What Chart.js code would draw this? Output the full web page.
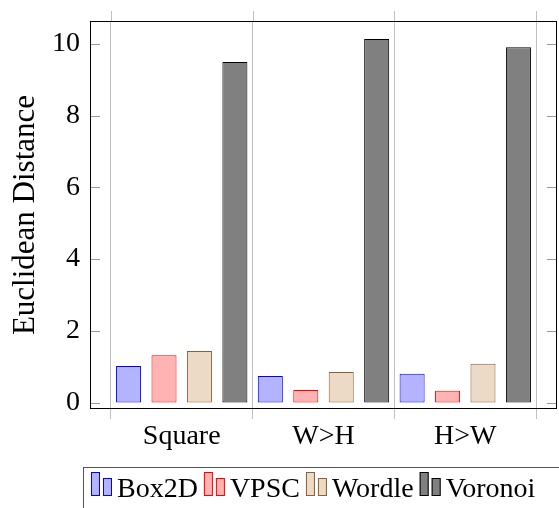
<!DOCTYPE html>
<html>
<head>
<meta charset="utf-8">
<script src="https://cdn.jsdelivr.net/npm/chart.js@4.4.0/dist/chart.umd.min.js"></script>
<style>
  html, body { margin: 0; padding: 0; background: #fff; }
</style>
</head>
<body>
<canvas id="my-chart" width="559" height="508"></canvas>
<script>
'use strict'

let categories = ['Square', 'W>H', 'H>W'];
let box2dValues = [1.02, 0.74, 0.80];
let vpscValues = [1.32, 0.35, 0.33];
let wordleValues = [1.44, 0.85, 1.08];
let voronoiValues = [9.50, 10.14, 9.91];

let yTickValues = [0, 2, 4, 6, 8, 10];
let xTickValues = [-0.5, 0, 0.5, 1, 1.5, 2, 2.5];

Chart.defaults.font.family = '"Liberation Serif", serif';
Chart.defaults.font.size = 28;
Chart.defaults.color = '#000';

function toPoints(values) {
  return values.map((v, i) => ({ x: i, y: v }));
}

// frame, inner y ticks, top grid stubs and the boxed legend
let framePlugin = {
  id: 'framePlugin',
  beforeDatasetsDraw(chart) {
    let ctx = chart.ctx;
    let area = chart.chartArea;
    let yScale = chart.scales.y;
    let xScale = chart.scales.x;
    ctx.save();
    ctx.strokeStyle = '#999';
    ctx.lineWidth = 1;
    yTickValues.forEach(v => {
      let py = Math.round(yScale.getPixelForValue(v)) + 0.5;
      ctx.beginPath();
      ctx.moveTo(area.left, py);
      ctx.lineTo(area.left + 10, py);
      ctx.moveTo(area.right, py);
      ctx.lineTo(area.right - 10, py);
      ctx.stroke();
    });
    ctx.strokeStyle = '#c0c0c0';
    xTickValues.forEach(v => {
      if (Number.isInteger(v)) return;
      let px = Math.round(xScale.getPixelForValue(v)) + 0.5;
      ctx.beginPath();
      ctx.moveTo(px, area.top - 10);
      ctx.lineTo(px, area.top);
      ctx.stroke();
    });
    ctx.restore();
  },
  afterDraw(chart) {
    let ctx = chart.ctx;
    let area = chart.chartArea;
    ctx.save();
    ctx.strokeStyle = '#000';
    ctx.lineWidth = 1;
    ctx.strokeRect(Math.round(area.left) + 0.5, Math.round(area.top) + 0.5,
      Math.round(area.right - area.left) - 1, Math.round(area.bottom - area.top) - 1);

    ctx.strokeStyle = '#555';
    ctx.strokeRect(83.5, 467.5, 520, 80);
    ctx.font = '28px "Liberation Serif"';
    ctx.textBaseline = 'alphabetic';
    let x = 91;
    chart.data.datasets.forEach(ds => {
      ctx.fillStyle = ds.backgroundColor;
      ctx.strokeStyle = ds.borderColor;
      ctx.fillRect(x, 472, 9, 24);
      ctx.strokeRect(x + 0.5, 472.5, 8, 23);
      ctx.fillRect(x + 12, 478, 9, 18);
      ctx.strokeRect(x + 12.5, 478.5, 8, 17);
      ctx.fillStyle = '#000';
      ctx.fillText(ds.label, x + 26, 497);
      x += 26 + ctx.measureText(ds.label).width + 6;
    });
    ctx.restore();
  }
};

let chartContext = document.getElementById('my-chart').getContext('2d');

let chartConfig = {
  type: 'bar',
  data: {
    datasets: [{
      label: 'Box2D',
      data: toPoints(box2dValues),
      backgroundColor: 'rgb(179,179,255)',
      borderColor: 'rgb(0,0,255)',
    }, {
      label: 'VPSC',
      data: toPoints(vpscValues),
      backgroundColor: 'rgb(255,179,179)',
      borderColor: 'rgb(255,0,0)',
    }, {
      label: 'Wordle',
      data: toPoints(wordleValues),
      backgroundColor: 'rgb(236,217,198)',
      borderColor: 'rgb(140,95,55)',
    }, {
      label: 'Voronoi',
      data: toPoints(voronoiValues),
      backgroundColor: 'rgb(128,128,128)',
      borderColor: 'rgb(0,0,0)',
    }],
  },
  options: {
    responsive: false,
    animation: false,
    borderWidth: 1,
    borderSkipped: false,
    // the ruler uses the half-step tick spacing, so the group spans two of those
    categoryPercentage: 2.0,
    barPercentage: 0.706,
    layout: { padding: { left: 0, right: 2, top: 21, bottom: 39 } },
    plugins: {
      legend: { display: false },
      tooltip: { enabled: false },
    },
    scales: {
      x: {
        type: 'linear',
        min: -0.647,
        max: 2.647,
        offset: false,
        afterBuildTicks: s => { s.ticks = xTickValues.map(v => ({ value: v })); },
        afterFit: s => { s.height = 60; s.paddingLeft = 0; s.paddingRight = 0; },
        grid: {
          offset: false,
          tickLength: 10,
          color: c => (c.tick && Number.isInteger(c.tick.value)) ? 'rgba(0,0,0,0)' : '#c0c0c0',
        },
        border: { display: false },
        ticks: {
          autoSkip: false,
          maxRotation: 0,
          padding: 1,
          callback: v => Number.isInteger(v) ? categories[v] : '',
        },
      },
      y: {
        min: -0.18,
        max: 10.64,
        afterBuildTicks: s => { s.ticks = yTickValues.map(v => ({ value: v })); },
        afterFit: s => { s.width = 90; s.paddingTop = 0; s.paddingBottom = 0; },
        grid: { display: false, drawTicks: false },
        border: { display: false },
        ticks: { padding: 10 },
        title: {
          display: true,
          text: 'Euclidean Distance',
          font: { size: 31 },
          padding: { top: 7, bottom: 0 },
        },
      },
    },
  },
  plugins: [framePlugin],
};

let myChart = new Chart(chartContext, chartConfig);
</script>
</body>
</html>
